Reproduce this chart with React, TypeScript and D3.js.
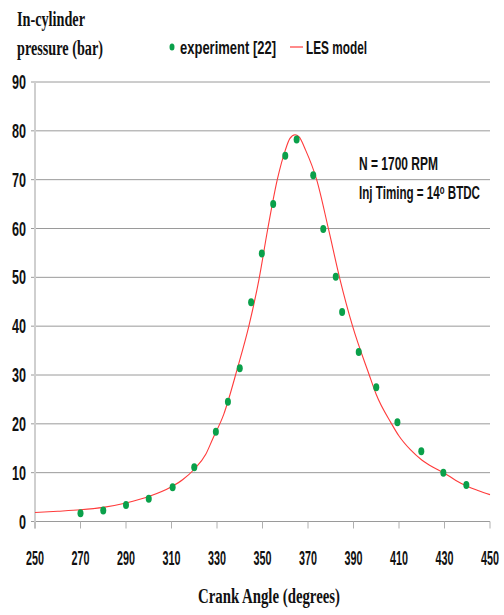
import React from "react";
import * as d3 from "d3";

// Experimental in-cylinder pressure samples (crank angle in degrees, pressure in bar)
const expAngle = [270, 280, 290, 300, 310.5, 320, 329.5, 334.8, 340, 345, 349.7, 354.7, 360, 365, 372.3, 376.7, 382.2, 385, 392.3, 400, 409.3, 419.8, 429.5, 439.6];
const expPressure = [1.7, 2.25, 3.4, 4.65, 7.0, 11.1, 18.4, 24.5, 31.4, 44.9, 54.9, 65.0, 74.9, 78.2, 70.9, 59.9, 50.1, 42.9, 34.7, 27.5, 20.3, 14.4, 10.0, 7.5];

// LES model pressure trace
const lesAngle = [250, 260, 270, 280, 290, 300, 310, 315, 320, 325, 328, 333, 339, 344, 348.5, 352.3, 356.5, 360, 362, 364.3, 366, 369, 373.8, 379, 384, 389.6, 397, 400, 406.5, 410, 415, 420, 425, 430, 435, 440, 445, 450];
const lesPressure = [1.85, 2.1, 2.4, 2.9, 3.8, 5.1, 7.1, 8.6, 10.7, 13.7, 16.8, 22.0, 31.4, 40.0, 49.7, 59.9, 70.0, 76.0, 78.4, 79.2, 78.8, 76.0, 70.0, 59.9, 49.7, 40.0, 29.9, 26.0, 20.2, 17.5, 14.7, 12.6, 11.1, 9.9, 8.4, 7.2, 6.3, 5.5];

const xTicks = [250, 270, 290, 310, 330, 350, 370, 390, 410, 430, 450];
const yTicks = [0, 10, 20, 30, 40, 50, 60, 70, 80, 90];

const W = 504;
const H = 615;
const SANS = "'Liberation Sans Narrow', 'Liberation Sans', 'DejaVu Sans', Arial, sans-serif";
const SERIF = "'Liberation Serif', 'DejaVu Serif', 'Times New Roman', serif";
const INK = "#111";

export default function App() {
  const x = d3.scaleLinear().domain([250, 450]).range([35, 490]);
  const y = d3.scaleLinear().domain([0, 90]).range([521.5, 82]);

  const lesPts: [number, number][] = lesAngle.map((a, i) => [a, lesPressure[i]]);
  const line = d3
    .line<[number, number]>()
    .x((d) => x(d[0]))
    .y((d) => y(d[1]))
    .curve(d3.curveMonotoneX);

  return (
    <svg
      width={W}
      height={H}
      style={{ position: "absolute", left: 0, top: 0, background: "#fff" }}
    >
      {/* horizontal gridlines with short outside ticks */}
      {yTicks.map((t) => (
        <line
          key={"g" + t}
          x1={31}
          x2={490}
          y1={y(t)}
          y2={y(t)}
          stroke="#9a9a9a"
          strokeWidth={1}
        />
      ))}
      {/* vertical axis */}
      <line x1={35} x2={35} y1={y(90)} y2={y(0) + 7} stroke="#cfcfcf" strokeWidth={2} />
      {/* x ticks */}
      {xTicks.map((t) => (
        <line
          key={"xt" + t}
          x1={x(t)}
          x2={x(t)}
          y1={y(0)}
          y2={y(0) + 7}
          stroke="#b0b0b0"
          strokeWidth={1}
        />
      ))}
      {/* y tick labels */}
      {yTicks.map((t) => {
        const s = String(t);
        return (
          <text
            key={"yl" + t}
            x={26}
            y={y(t) + 7}
            textAnchor="end"
            fontFamily={SANS}
            fontWeight="bold"
            fontSize={20}
            fill={INK}
            textLength={7 * s.length}
            lengthAdjust="spacingAndGlyphs"
          >
            {s}
          </text>
        );
      })}
      {/* x tick labels */}
      {xTicks.map((t) => (
        <text
          key={"xl" + t}
          x={x(t)}
          y={565}
          textAnchor="middle"
          fontFamily={SANS}
          fontWeight="bold"
          fontSize={20}
          fill={INK}
          textLength={18}
          lengthAdjust="spacingAndGlyphs"
        >
          {t}
        </text>
      ))}

      {/* LES model curve */}
      <path d={line(lesPts) ?? ""} fill="none" stroke="#ff3b3b" strokeWidth={1.1} />

      {/* experimental points */}
      {expAngle.map((a, i) => (
        <ellipse
          key={"p" + i}
          cx={x(a)}
          cy={y(expPressure[i])}
          rx={3}
          ry={4}
          fill="#0aa04a"
        />
      ))}

      {/* axis titles */}
      <text x={17} y={26} fontFamily={SERIF} fontWeight="bold" fontSize={20} fill={INK} textLength={68} lengthAdjust="spacingAndGlyphs">
        In-cylinder
      </text>
      <text x={17} y={55} fontFamily={SERIF} fontWeight="bold" fontSize={20} fill={INK} textLength={86} lengthAdjust="spacingAndGlyphs">
        pressure (bar)
      </text>
      <text x={198} y={603} fontFamily={SERIF} fontWeight="bold" fontSize={20} fill={INK} textLength={142} lengthAdjust="spacingAndGlyphs">
        Crank Angle  (degrees)
      </text>

      {/* legend */}
      <ellipse cx={172} cy={47} rx={2.5} ry={3.5} fill="#0aa04a" />
      <text x={180} y={54} fontFamily={SANS} fontWeight="bold" fontSize={19} fill={INK} textLength={96} lengthAdjust="spacingAndGlyphs">
        experiment [22]
      </text>
      <line x1={290} x2={303} y1={47} y2={47} stroke="#ff3b3b" strokeWidth={1.2} />
      <text x={306} y={54} fontFamily={SANS} fontWeight="bold" fontSize={19} fill={INK} textLength={61} lengthAdjust="spacingAndGlyphs">
        LES model
      </text>

      {/* operating conditions */}
      <text x={359} y={170} fontFamily={SANS} fontWeight="bold" fontSize={19} fill={INK} textLength={79} lengthAdjust="spacingAndGlyphs">
        N = 1700 RPM
      </text>
      <text x={359} y={199} fontFamily={SANS} fontWeight="bold" fontSize={19} fill={INK} textLength={121} lengthAdjust="spacingAndGlyphs">
        Inj Timing = 14ᵒ BTDC
      </text>
    </svg>
  );
}
